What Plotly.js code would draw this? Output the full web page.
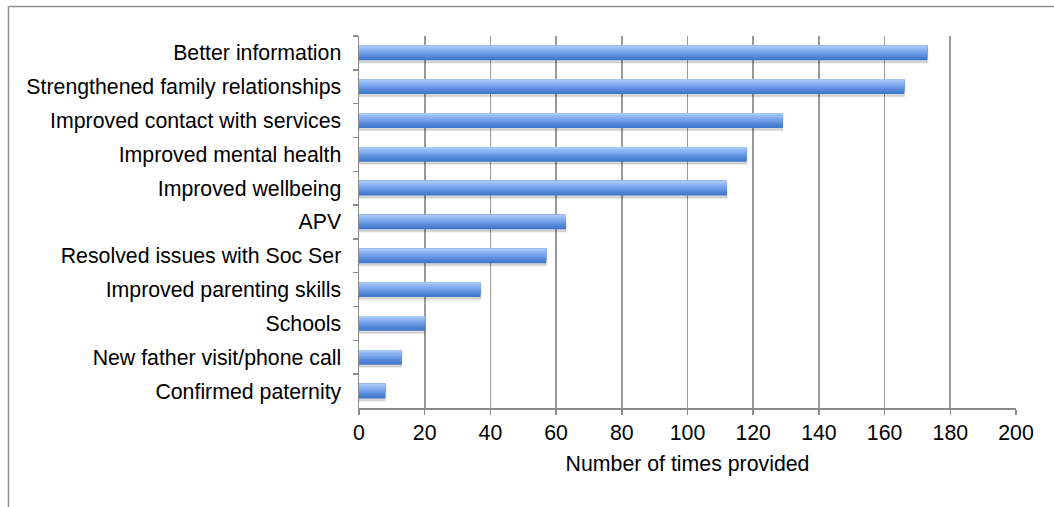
<!DOCTYPE html>
<html>
<head>
<meta charset="utf-8">
<script src="https://cdn.plot.ly/plotly-3.0.1.min.js"></script>
<style>
  html, body { margin: 0; padding: 0; background: #ffffff; }
  #chart { width: 1054px; height: 507px; }
</style>
</head>
<body>
<div id="chart"></div>
<script>
// Outcomes reported, one bar per category (top to bottom)
const categories = [
  "Better information",
  "Strengthened family relationships",
  "Improved contact with services",
  "Improved mental health",
  "Improved wellbeing",
  "APV",
  "Resolved issues with Soc Ser",
  "Improved parenting skills",
  "Schools",
  "New father visit/phone call",
  "Confirmed paternity"
];
const timesProvided = [173, 166, 129, 118, 112, 63, 57, 37, 20, 13, 8];

const xTickValues = [0, 20, 40, 60, 80, 100, 120, 140, 160, 180, 200];
const xAxisTitle = "Number of times provided";

// Bar styling: a vertical light-to-dark blue shading built from nested bars
const BAR_W = 0.435;
const shadeColors = ["#4078ca", "#4c81d3", "#5a8bdb", "#6897e3", "#77a3ea", "#87afef", "#97bbf3", "#a8c8f7"];

const traces = [];

// soft drop shadow under each bar
traces.push({
  type: "bar",
  orientation: "h",
  y: categories,
  x: timesProvided,
  width: BAR_W,
  offset: -BAR_W / 2 + 0.07,
  marker: { color: "rgba(0,0,0,0.14)", line: { color: "rgba(0,0,0,0.07)", width: 2 } },
  hoverinfo: "skip",
  showlegend: false
});

// nested bars anchored at the top edge; each smaller one is lighter
const n = shadeColors.length;
for (let i = 0; i < n; i++) {
  const h = BAR_W * (n - i) / n;
  traces.push({
    type: "bar",
    orientation: "h",
    y: categories,
    x: timesProvided,
    width: h,
    offset: -BAR_W / 2,
    marker: { color: shadeColors[i], line: { width: 0 } },
    hoverinfo: "skip",
    showlegend: false
  });
}

const axisGrey = "#8a8a8a";
const font = { family: "Liberation Sans, Arial, Helvetica, sans-serif", size: 21.3, color: "#000000" };

const layout = {
  width: 1054,
  height: 507,
  margin: { l: 359, r: 38, t: 36, b: 99, pad: 0 },
  paper_bgcolor: "#ffffff",
  plot_bgcolor: "#ffffff",
  barmode: "overlay",
  showlegend: false,
  font: font,
  xaxis: {
    range: [0, 200],
    tickvals: xTickValues,
    ticktext: xTickValues.map(String),
    showgrid: true,
    gridcolor: "#999999",
    gridwidth: 1.7,
    zeroline: false,
    showline: true,
    linecolor: axisGrey,
    linewidth: 1.5,
    ticks: "outside",
    ticklen: 5,
    tickwidth: 1.5,
    tickcolor: axisGrey,
    tickfont: font,
    title: { text: xAxisTitle, font: font, standoff: 12 },
    fixedrange: true
  },
  yaxis: {
    type: "category",
    autorange: "reversed",
    showgrid: false,
    zeroline: false,
    showline: true,
    linecolor: axisGrey,
    linewidth: 1.5,
    ticks: "outside",
    tickson: "boundaries",
    ticklen: 5,
    tickwidth: 1.5,
    tickcolor: axisGrey,
    tickfont: font,
    ticklabelstandoff: 12,
    fixedrange: true
  },
  shapes: [
    // frame: left and top edges of the surrounding box
    { type: "line", xref: "paper", yref: "paper",
      x0: (8.5 - 359) / 657, x1: (8.5 - 359) / 657, y0: (408 - 6.5) / 372, y1: (408 - 510) / 372,
      line: { color: "#8e8e8e", width: 1.5 } },
    { type: "line", xref: "paper", yref: "paper",
      x0: (8.5 - 359) / 657, x1: (1060 - 359) / 657, y0: (408 - 6.5) / 372, y1: (408 - 6.5) / 372,
      line: { color: "#8e8e8e", width: 1.5 } }
  ]
};

Plotly.newPlot("chart", traces, layout, { displayModeBar: false, staticPlot: true });
</script>
</body>
</html>
